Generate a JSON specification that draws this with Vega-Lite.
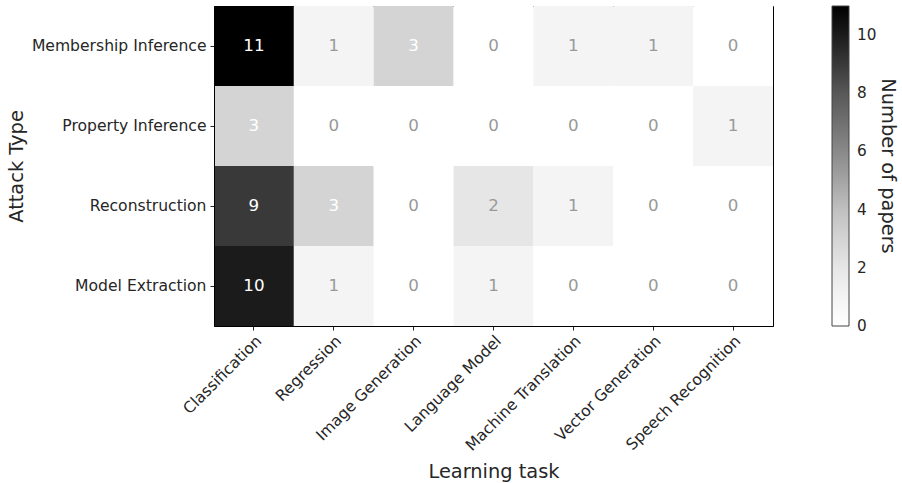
{
  "$schema": "https://vega.github.io/schema/vega-lite/v6.json",
  "width": 559,
  "height": 320,
  "autosize": {"type": "none"},
  "padding": {"left": 214, "top": 6, "right": 129, "bottom": 157},
  "config": {
    "font": "DejaVu Sans",
    "view": {"stroke": "black", "strokeWidth": 1},
    "axis": {
      "labelFont": "DejaVu Sans",
      "titleFont": "DejaVu Sans",
      "labelFontSize": 15.6,
      "titleFontSize": 19.4,
      "titleFontWeight": "normal",
      "labelColor": "#262626",
      "titleColor": "#262626",
      "tickColor": "#262626",
      "domainColor": "black",
      "tickSize": 4,
      "grid": false
    }
  },
  "data": {
    "values": [
      {"attack": "Membership Inference", "task": "Classification", "value": 11},
      {"attack": "Membership Inference", "task": "Regression", "value": 1},
      {"attack": "Membership Inference", "task": "Image Generation", "value": 3},
      {"attack": "Membership Inference", "task": "Language Model", "value": 0},
      {"attack": "Membership Inference", "task": "Machine Translation", "value": 1},
      {"attack": "Membership Inference", "task": "Vector Generation", "value": 1},
      {"attack": "Membership Inference", "task": "Speech Recognition", "value": 0},
      {"attack": "Property Inference", "task": "Classification", "value": 3},
      {"attack": "Property Inference", "task": "Regression", "value": 0},
      {"attack": "Property Inference", "task": "Image Generation", "value": 0},
      {"attack": "Property Inference", "task": "Language Model", "value": 0},
      {"attack": "Property Inference", "task": "Machine Translation", "value": 0},
      {"attack": "Property Inference", "task": "Vector Generation", "value": 0},
      {"attack": "Property Inference", "task": "Speech Recognition", "value": 1},
      {"attack": "Reconstruction", "task": "Classification", "value": 9},
      {"attack": "Reconstruction", "task": "Regression", "value": 3},
      {"attack": "Reconstruction", "task": "Image Generation", "value": 0},
      {"attack": "Reconstruction", "task": "Language Model", "value": 2},
      {"attack": "Reconstruction", "task": "Machine Translation", "value": 1},
      {"attack": "Reconstruction", "task": "Vector Generation", "value": 0},
      {"attack": "Reconstruction", "task": "Speech Recognition", "value": 0},
      {"attack": "Model Extraction", "task": "Classification", "value": 10},
      {"attack": "Model Extraction", "task": "Regression", "value": 1},
      {"attack": "Model Extraction", "task": "Image Generation", "value": 0},
      {"attack": "Model Extraction", "task": "Language Model", "value": 1},
      {"attack": "Model Extraction", "task": "Machine Translation", "value": 0},
      {"attack": "Model Extraction", "task": "Vector Generation", "value": 0},
      {"attack": "Model Extraction", "task": "Speech Recognition", "value": 0}
    ]
  },
  "encoding": {
    "x": {
      "field": "task",
      "type": "nominal",
      "sort": ["Classification", "Regression", "Image Generation", "Language Model", "Machine Translation", "Vector Generation", "Speech Recognition"],
      "scale": {"paddingInner": 0, "paddingOuter": 0},
      "axis": {"title": "Learning task", "labelAngle": -45, "labelAlign": "right", "labelBaseline": "top", "labelPadding": 3, "titlePadding": 9}
    },
    "y": {
      "field": "attack",
      "type": "nominal",
      "sort": ["Membership Inference", "Property Inference", "Reconstruction", "Model Extraction"],
      "scale": {"paddingInner": 0, "paddingOuter": 0},
      "axis": {"title": "Attack Type", "labelPadding": 4, "titlePadding": 5}
    }
  },
  "layer": [
    {
      "mark": {"type": "rect"},
      "encoding": {
        "color": {
          "field": "value",
          "type": "quantitative",
          "scale": {
            "domain": [0, 1.375, 2.75, 4.125, 5.5, 6.875, 8.25, 9.625, 11],
            "range": ["#ffffff", "#f0f0f0", "#d9d9d9", "#bdbdbd", "#969696", "#737373", "#525252", "#252525", "#000000"],
            "interpolate": "rgb"
          },
          "legend": {
            "title": "Number of papers",
            "orient": "none",
            "legendX": 618,
            "legendY": 0,
            "direction": "vertical",
            "gradientLength": 320,
            "gradientThickness": 17,
            "gradientStrokeColor": "#444",
            "gradientStrokeWidth": 1,
            "values": [0, 2, 4, 6, 8, 10],
            "labelFontSize": 15.3,
            "labelColor": "#262626",
            "labelOffset": 8,
            "labelOverlap": false,
            "labelFont": "DejaVu Sans",
            "encode": {"labels": {"update": {"baseline": {"value": "middle"}}}},
            "titleOrient": "right",
            "titleAngle": 90,
            "titleFontSize": 19.4,
            "titleFontWeight": "normal",
            "titleColor": "#262626",
            "titleFont": "DejaVu Sans",
            "titleAnchor": "middle",
            "titlePadding": 2
          }
        }
      }
    },
    {
      "mark": {"type": "text", "fontSize": 16.7, "font": "DejaVu Sans"},
      "encoding": {
        "text": {"field": "value", "type": "quantitative"},
        "color": {
          "condition": {"test": "datum.value >= 3", "value": "white"},
          "value": "#999999"
        }
      }
    }
  ]
}
